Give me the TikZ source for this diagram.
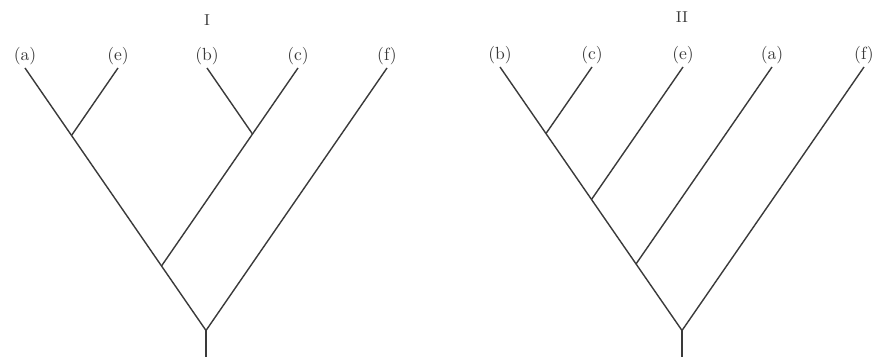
\documentclass[tikz,border=0pt]{standalone}
\usepackage{tikz}
\usepackage{xcolor}
\usetikzlibrary{positioning}
\definecolor{InkGray}{HTML}{3A3A3A}

\begin{document}
\begin{tikzpicture}[
  every node/.style={font=\normalsize, inner sep=2pt, outer sep=0pt, text=InkGray},
  leaf/.style={anchor=south},
  title/.style={font=\small},
  branch/.style={line width=0.8pt, draw=InkGray}
]
  \useasboundingbox (0,0) rectangle (17.52,7.16);

  % Tree I: tips
  \coordinate (Ia) at (0.50,5.80);
  \coordinate (Ie) at (2.36,5.80);
  \coordinate (Ib) at (4.14,5.80);
  \coordinate (Ic) at (5.96,5.80);
  \coordinate (If) at (7.74,5.80);
  % Tree I: forks
  \coordinate (Iae) at (1.43,4.45);
  \coordinate (Ibc) at (5.05,4.48);
  \coordinate (Iaebc) at (3.23,1.84);
  \coordinate (Iroot) at (4.12,0.55);
  \coordinate (Ibase) at (4.12,0.02);

  \node[title] (Ititle) at (4.14,6.76) {I};
  \node[leaf] (Ia-lbl) at (Ia) {(a)};
  \node[leaf] (Ie-lbl) at (Ie) {(e)};
  \node[leaf] (Ib-lbl) at (Ib) {(b)};
  \node[leaf] (Ic-lbl) at (Ic) {(c)};
  \node[leaf] (If-lbl) at (If) {(f)};

  \draw[branch] (Ia) -- (Iroot);
  \draw[branch] (Ie) -- (Iae);
  \draw[branch] (Ib) -- (Ibc);
  \draw[branch] (Ic) -- (Iaebc);
  \draw[branch] (If) -- (Iroot);
  \draw[branch] (Iroot) -- (Ibase);

  % Tree II: tips
  \coordinate (IIb) at (10.00,5.82);
  \coordinate (IIc) at (11.84,5.82);
  \coordinate (IIe) at (13.66,5.82);
  \coordinate (IIa) at (15.44,5.82);
  \coordinate (IIf) at (17.28,5.82);
  % Tree II: forks
  \coordinate (IIbc) at (10.92,4.49);
  \coordinate (IIbce) at (11.83,3.17);
  \coordinate (IIbcea) at (12.72,1.88);
  \coordinate (IIroot) at (13.64,0.55);
  \coordinate (IIbase) at (13.64,0.02);

  \node[title] (IItitle) at (13.64,6.82) {II};
  \node[leaf] (IIb-lbl) at (IIb) {(b)};
  \node[leaf] (IIc-lbl) at (IIc) {(c)};
  \node[leaf] (IIe-lbl) at (IIe) {(e)};
  \node[leaf] (IIa-lbl) at (IIa) {(a)};
  \node[leaf] (IIf-lbl) at (IIf) {(f)};

  \draw[branch] (IIb) -- (IIroot);
  \draw[branch] (IIc) -- (IIbc);
  \draw[branch] (IIe) -- (IIbce);
  \draw[branch] (IIa) -- (IIbcea);
  \draw[branch] (IIf) -- (IIroot);
  \draw[branch] (IIroot) -- (IIbase);
\end{tikzpicture}
\end{document}
